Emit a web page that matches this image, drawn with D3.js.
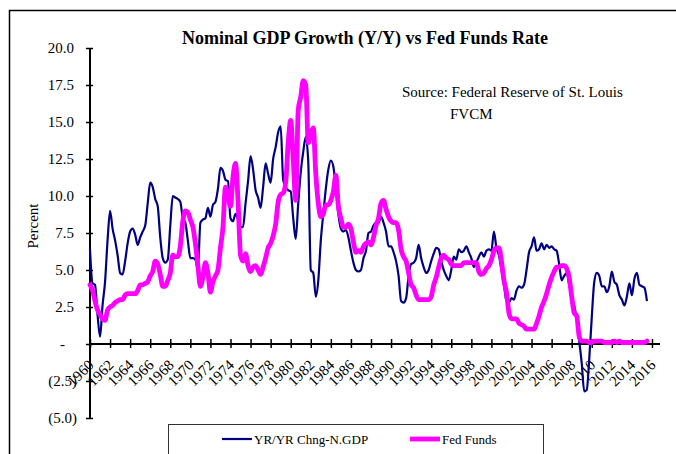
<!DOCTYPE html>
<html>
<head>
<meta charset="utf-8">
<script src="https://cdn.jsdelivr.net/npm/d3@7"></script>
<style>
  body { margin: 0; background: #fff; }
  text { font-family: "Liberation Serif", "Times New Roman", serif; fill: #000; }
</style>
</head>
<body>
<script>
//------------------------------------------- Data ---------------------------------------------//
// quarterly values, first quarter of 1960 through third quarter of 2015
var startYear = 1960;

var gdpGrowth = [
  6.4, 4.1, 4.0, 2.0,
  0.5, 2.6, 4.2, 7.0,
  9.0, 7.8, 7.0, 6.0,
  4.8, 4.7, 5.6, 6.8,
  7.6, 7.8, 7.4, 6.7,
  7.2, 7.6, 8.0, 9.5,
  10.9, 10.6, 9.8, 9.3,
  7.2, 5.8, 5.5, 5.7,
  8.0, 10.0, 9.9, 9.8,
  9.6, 8.5, 8.2, 7.0,
  5.8, 5.8, 5.7, 5.0,
  8.2, 8.4, 8.5, 9.2,
  8.6, 9.4, 9.6, 10.5,
  11.9, 11.7, 11.1, 11.0,
  8.5, 8.3, 8.8, 8.4,
  7.9, 7.9, 9.5, 11.0,
  12.7, 11.8, 10.4, 9.9,
  9.2, 10.6, 12.2, 11.5,
  10.9, 12.5, 13.3, 14.3,
  14.7, 11.1, 10.6, 10.4,
  10.3, 8.5, 7.1, 9.5,
  11.6, 13.0, 14.0, 12.3,
  5.0, 4.8, 3.2, 4.3,
  7.0, 8.8, 10.5, 11.8,
  12.4, 12.0, 10.5, 8.8,
  7.8, 7.6, 7.7, 7.2,
  6.3, 5.5, 5.0, 4.9,
  5.0, 5.8, 6.3, 7.5,
  7.6, 8.0, 8.2, 8.2,
  8.6, 8.2, 7.6, 6.6,
  6.6, 6.2, 5.6, 4.6,
  2.9, 2.8, 3.1, 4.6,
  5.4, 5.5, 5.8, 6.7,
  5.8, 5.2, 4.8, 5.0,
  5.6, 6.1, 6.5, 6.4,
  5.6, 5.0, 4.6, 4.3,
  5.0, 5.9, 5.7, 6.4,
  6.2, 6.3, 6.6, 6.2,
  5.8, 5.2, 5.5, 5.9,
  6.2, 5.9, 6.3, 6.4,
  6.3, 7.6, 6.5, 6.0,
  5.0, 4.0, 2.9, 2.8,
  3.1, 3.0, 3.6, 3.9,
  3.8, 4.0, 5.0, 6.2,
  6.6, 7.2, 6.3, 6.4,
  6.8, 6.4, 6.7, 6.5,
  6.6, 6.4, 6.3, 5.4,
  4.3, 4.6, 4.8, 4.0,
  3.2, 2.6, 1.7, 0.2,
  -1.3, -3.2, -3.1, -1.0,
  1.8, 4.2, 4.8, 4.6,
  3.9, 3.9, 3.5, 3.9,
  4.9, 4.2, 4.0, 3.3,
  3.0, 2.6, 3.2, 4.1,
  3.3, 4.4, 4.8, 4.0,
  3.9, 3.8, 2.9
];

var fedFunds = [
  4.0, 3.65, 2.9, 2.3,
  2.0, 1.7, 1.6, 2.3,
  2.5, 2.6, 2.8, 2.9,
  3.0, 3.0, 3.3, 3.4,
  3.4, 3.4, 3.4, 3.6,
  4.0, 4.0, 4.1, 4.2,
  4.6, 4.9, 5.6, 5.4,
  4.7, 3.9, 3.9, 4.3,
  4.8, 6.0, 5.9, 5.9,
  6.6, 8.3, 9.0, 8.9,
  8.4, 7.9, 6.8, 5.3,
  3.9, 4.5, 5.5, 4.8,
  3.5, 4.2, 4.6, 5.0,
  6.5, 7.9, 10.6, 10.0,
  9.3, 11.3, 12.2, 9.7,
  6.0, 5.6, 6.1, 5.3,
  4.9, 5.2, 5.3, 5.0,
  4.7, 5.2, 5.8, 6.5,
  6.8, 7.3, 8.1, 9.6,
  10.1, 10.2, 10.9, 13.6,
  15.1, 12.5, 9.7, 15.8,
  16.7, 17.8, 17.5, 13.6,
  14.2, 14.6, 11.5, 9.5,
  8.6, 8.8, 9.4, 9.4,
  9.7, 10.3, 11.4, 9.3,
  8.5, 7.9, 7.9, 8.1,
  7.8, 6.9, 6.2, 6.3,
  6.2, 6.6, 6.8, 6.9,
  6.7, 7.2, 8.0, 8.5,
  9.5, 9.7, 9.1, 8.6,
  8.3, 8.2, 8.2, 7.7,
  6.4, 5.9, 5.6, 4.8,
  4.0, 3.8, 3.3, 3.0,
  3.0, 3.0, 3.0, 3.0,
  3.2, 4.0, 4.5, 5.2,
  5.8, 6.0, 5.8, 5.7,
  5.4, 5.3, 5.3, 5.3,
  5.3, 5.5, 5.5, 5.5,
  5.5, 5.5, 5.5, 4.9,
  4.7, 4.8, 5.1, 5.3,
  5.7, 6.3, 6.5, 6.5,
  5.6, 4.3, 3.5, 2.1,
  1.7, 1.7, 1.7, 1.4,
  1.3, 1.2, 1.0, 1.0,
  1.0, 1.0, 1.4, 1.9,
  2.5, 2.9, 3.4, 4.0,
  4.5, 4.9, 5.2, 5.2,
  5.3, 5.3, 5.1, 4.5,
  3.2, 2.1, 1.9, 0.5,
  0.2, 0.2, 0.2, 0.1,
  0.1, 0.2, 0.2, 0.2,
  0.2, 0.1, 0.1, 0.1,
  0.1, 0.2, 0.1, 0.2,
  0.1, 0.1, 0.1, 0.1,
  0.1, 0.1, 0.1, 0.1,
  0.1, 0.1, 0.2
];

var yearTicks = d3.range(1960, 2017, 2);
var valueTicks = [-5, -2.5, 0, 2.5, 5, 7.5, 10, 12.5, 15, 17.5, 20];

var seriesNames = ["YR/YR Chng-N.GDP", "Fed Funds"];
var seriesColors = ["#000080", "#ff00ff"];

//------------------------------------------- Setup ---------------------------------------------//
var width = 676,
  height = 454;
var serif = "Liberation Serif";

var svg = d3
  .select("body")
  .append("svg")
  .attr("width", width)
  .attr("height", height);

// outer frame of the chart
svg
  .append("path")
  .attr("d", "M9.5,460V10.5H680")
  .attr("fill", "none")
  .attr("stroke", "#000")
  .attr("stroke-width", 1.5);

var x = d3.scaleLinear().domain([1960, 2016.8]).range([90, 660]);
var y = d3.scaleLinear().domain([-5, 20]).range([418, 48]);

//------------------------------------------- Axes ---------------------------------------------//
var yAxis = svg
  .append("g")
  .attr("transform", "translate(" + x(1960) + ",0)")
  .call(
    d3
      .axisLeft(y)
      .tickValues(valueTicks)
      .tickSize(4)
      .tickFormat(function (d) {
        if (d === 0) return "-";
        if (d < 0) return "(" + d3.format(".1f")(-d) + ")";
        return d3.format(".1f")(d);
      })
  );
yAxis.select(".domain").attr("stroke-width", 2).attr("d", "M0," + y(-5) + "V" + y(20));
yAxis.selectAll(".tick line").attr("stroke-width", 1.5).attr("x2", 3).attr("x1", -4);
yAxis
  .selectAll(".tick text")
  .attr("font-family", serif)
  .attr("font-size", 15)
  .attr("x", function (d) {
    if (d === 0) return -25;
    if (d < 0) return -13;
    return -16;
  });

var xAxis = svg
  .append("g")
  .attr("transform", "translate(0," + y(0) + ")")
  .call(d3.axisBottom(x).tickValues(yearTicks).tickSize(4).tickFormat(d3.format("d")));
xAxis.select(".domain").attr("stroke-width", 2).attr("d", "M" + x(1960) + ",0H" + x(2016.8));
xAxis.selectAll(".tick line").attr("stroke-width", 1.5).attr("y1", -5).attr("y2", 4);
xAxis
  .selectAll(".tick text")
  .attr("font-family", serif)
  .attr("font-size", 15)
  .attr("text-anchor", "end")
  .attr("dy", null)
  .attr("y", null)
  .attr("transform", "translate(4,22) rotate(-45)");

//------------------------------------------- Lines ---------------------------------------------//
var line = d3
  .line()
  .x(function (d, i) {
    return x(startYear + i / 4);
  })
  .y(function (d) {
    return y(d);
  })
  .curve(d3.curveMonotoneX);

svg
  .append("path")
  .datum(gdpGrowth)
  .attr("d", line)
  .attr("fill", "none")
  .attr("stroke", seriesColors[0])
  .attr("stroke-width", 2.2)
  .attr("stroke-linejoin", "round");

svg
  .append("path")
  .datum(fedFunds)
  .attr("d", line)
  .attr("fill", "none")
  .attr("stroke", seriesColors[1])
  .attr("stroke-width", 4.8)
  .attr("stroke-linejoin", "round")
  .attr("stroke-linecap", "round");

//------------------------------------------- Text ---------------------------------------------//
svg
  .append("text")
  .attr("x", 365)
  .attr("y", 44)
  .attr("text-anchor", "middle")
  .attr("font-family", serif)
  .attr("font-size", 18)
  .attr("font-weight", "bold")
  .text("Nominal GDP Growth (Y/Y) vs Fed Funds Rate");

svg
  .append("text")
  .attr("x", 402)
  .attr("y", 97)
  .attr("font-family", serif)
  .attr("font-size", 15)
  .text("Source: Federal Reserve of St. Louis");

svg
  .append("text")
  .attr("x", 450)
  .attr("y", 119)
  .attr("font-family", serif)
  .attr("font-size", 15)
  .text("FVCM");

svg
  .append("text")
  .attr("transform", "translate(38,226) rotate(-90)")
  .attr("text-anchor", "middle")
  .attr("font-family", serif)
  .attr("font-size", 15)
  .text("Percent");

//------------------------------------------- Legend ---------------------------------------------//
svg
  .append("rect")
  .attr("x", 168.5)
  .attr("y", 424.5)
  .attr("width", 375)
  .attr("height", 40)
  .attr("fill", "#fff")
  .attr("stroke", "#333")
  .attr("stroke-width", 1);

var legendX = [222, 410];
var legend = svg
  .selectAll(".legend")
  .data(seriesNames)
  .enter()
  .append("g")
  .attr("class", "legend")
  .attr("transform", function (d, i) {
    return "translate(" + legendX[i] + ",439)";
  });

legend
  .append("line")
  .attr("x1", 0)
  .attr("x2", 30)
  .attr("stroke", function (d, i) {
    return seriesColors[i];
  })
  .attr("stroke-width", function (d, i) {
    return i === 0 ? 2.2 : 4.8;
  });

legend
  .append("text")
  .attr("x", 32)
  .attr("y", 5)
  .attr("font-family", serif)
  .attr("font-size", 13)
  .text(function (d) {
    return d;
  });
</script>
</body>
</html>
